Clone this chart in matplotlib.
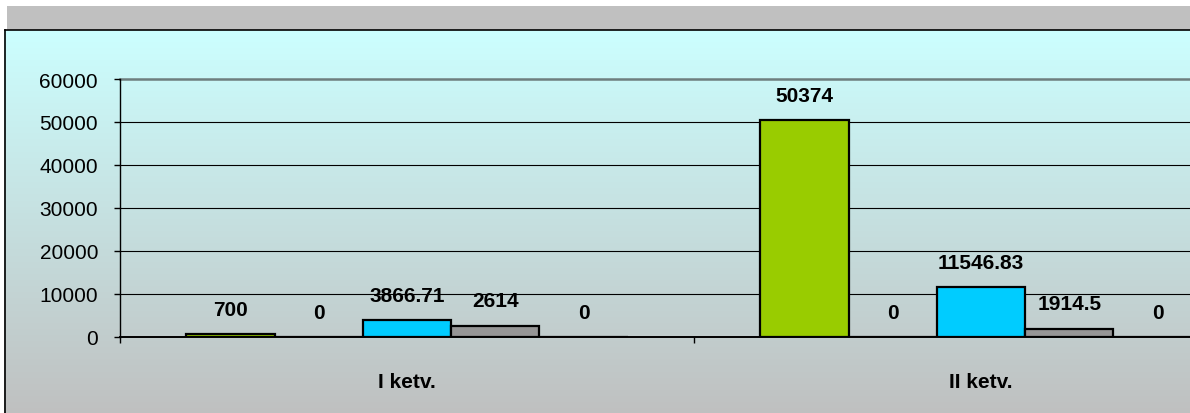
import numpy as np
import matplotlib
matplotlib.use("Agg")
import matplotlib.pyplot as plt
from matplotlib.patches import Rectangle

plt.rcParams['font.family'] = ['Liberation Sans', 'DejaVu Sans']

# Data
quarters = ["I ketv.", "II ketv."]
series_a = [700, 50374]
series_b = [0, 0]
series_c = [3866.71, 11546.83]
series_d = [2614, 1914.5]
series_e = [0, 0]
all_series = [series_a, series_b, series_c, series_d, series_e]
colors = ["#99CC00", "#993366", "#00CCFF", "#969696", "#FF8080"]
y_ticks = [0, 10000, 20000, 30000, 40000, 50000, 60000]

W, H = 1190, 414
fig = plt.figure(figsize=(W / 100, H / 100), dpi=100)
fig.patch.set_facecolor("white")

# Grey header band
fig.patches.append(Rectangle((7 / W, 1 - 31 / H), 1, 24 / H, transform=fig.transFigure,
                             facecolor="#C0C0C0", edgecolor="none", zorder=0))

# Chart area with vertical gradient (reaches past the bottom edge)
bg = fig.add_axes([4 / W, -0.02, 1.2, (H - 31) / H + 0.02], zorder=-5)
top = np.array([204, 255, 255]) / 255
bot = np.array([191, 191, 191]) / 255
t = np.linspace(0, 1, 256)[:, None]
grad = (top[None, :] * (1 - t) + bot[None, :] * t)[:, None, :]
bg.imshow(grad, aspect="auto", extent=[0, 1, 0, 1], origin="upper")
bg.set_xlim(0, 1)
bg.set_ylim(0, 1)
bg.set_axis_off()
fig.add_artist(plt.Line2D([4.5 / W, 4.5 / W], [-0.01, 1 - 31 / H], color="black", lw=1.2,
                          transform=fig.transFigure))
fig.add_artist(plt.Line2D([4.5 / W, 1], [1 - 31 / H, 1 - 31 / H], color="black", lw=1.2,
                          transform=fig.transFigure))

# Plot area
ax = fig.add_axes([120 / W, 1 - 338 / H, 1148 / W, 258 / H])
ax.patch.set_alpha(0)
ax.set_xlim(-0.5, 1.5)
ax.set_ylim(0, 60000)

for yv in y_ticks[1:-1]:
    ax.axhline(yv, color="black", lw=0.8, zorder=1)
ax.axhline(60000, color="#6E7E7E", lw=1.8, zorder=1, clip_on=False)

n = len(all_series)
w = 1 / 6.5
x = np.arange(len(quarters))


def fmt(v):
    return format(v, ".2f").rstrip("0").rstrip(".")


for i, (vals, col) in enumerate(zip(all_series, colors)):
    xs = x + (i - (n - 1) / 2) * w
    bars = ax.bar(xs, vals, width=w, color=col, edgecolor="black", linewidth=1.6, zorder=3)
    for b, v in zip(bars, vals):
        ax.annotate(fmt(v), (b.get_x() + b.get_width() / 2, v), xytext=(0, 11),
                    textcoords="offset points", ha="center", va="bottom",
                    fontsize=15, fontweight="bold", zorder=4)

for s in ["top", "right"]:
    ax.spines[s].set_visible(False)
ax.spines["left"].set_linewidth(1.0)
ax.spines["bottom"].set_linewidth(1.4)

ax.set_yticks(y_ticks)
ax.set_yticklabels([str(v) for v in y_ticks])
ax.tick_params(axis="y", length=4.3, width=1, pad=11.5, labelsize=15, direction="out")

ax.set_xticks(x)
ax.set_xticklabels(quarters, fontsize=15, fontweight="bold")
ax.tick_params(axis="x", which="major", length=0, pad=25)
ax.set_xticks([-0.5, 0.5, 1.5], minor=True)
ax.tick_params(axis="x", which="minor", length=4.3, width=1, direction="out")

fig.savefig("out.png", dpi=100)
